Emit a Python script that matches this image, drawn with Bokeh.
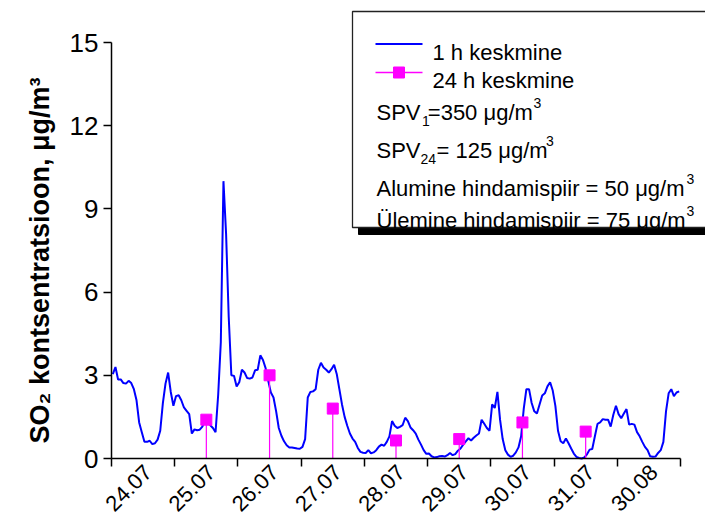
import math

from bokeh.core.properties import value
from bokeh.embed import file_html
from bokeh.models import ColumnDataSource, FixedTicker, Range1d, Title
from bokeh.plotting import figure
from bokeh.resources import INLINE

# ---- data -------------------------------------------------------------
day_labels = ["24.07", "25.07", "26.07", "27.07", "28.07",
              "29.07", "30.07", "31.07", "30.08"]

# hourly SO2 concentration, µg/m3 (24 values per day)
hourly_d1 = [3.04, 3.30, 2.85, 2.85, 2.72, 2.70, 2.80, 2.72, 2.50, 2.10, 1.30, 0.95,
             0.60, 0.60, 0.64, 0.52, 0.55, 0.68, 1.00, 2.00, 2.70, 3.10, 2.40, 1.90]
hourly_d2 = [2.25, 2.28, 2.10, 1.84, 1.72, 1.60, 0.90, 1.05, 1.02, 1.04, 1.15, 1.35,
             1.40, 1.20, 1.10, 0.95, 2.30, 4.20, 10.0, 8.10, 5.10, 3.00, 2.98, 2.60]
hourly_d3 = [2.75, 3.20, 3.10, 2.90, 2.88, 2.92, 3.18, 3.20, 3.72, 3.55, 3.26, 2.80,
             2.38, 2.20, 1.70, 1.10, 0.82, 0.62, 0.48, 0.40, 0.40, 0.38, 0.36, 0.35]
hourly_d4 = [0.42, 0.70, 2.20, 2.40, 2.42, 2.50, 3.20, 3.45, 3.28, 3.20, 3.10, 3.22,
             3.38, 3.05, 2.50, 1.95, 1.50, 1.18, 0.90, 0.72, 0.60, 0.38, 0.24, 0.21]
hourly_d5 = [0.20, 0.30, 0.19, 0.22, 0.30, 0.43, 0.50, 0.46, 0.60, 0.80, 1.35, 1.18,
             1.10, 1.14, 1.20, 1.47, 1.35, 1.12, 1.02, 0.90, 0.68, 0.50, 0.30, 0.17]
hourly_d6 = [0.18, 0.08, 0.04, 0.05, 0.08, 0.09, 0.07, 0.12, 0.20, 0.12, 0.16, 0.28,
             0.36, 0.50, 0.62, 0.73, 0.65, 0.75, 0.83, 0.90, 1.40, 1.25, 1.10, 1.00]
hourly_d7 = [1.95, 1.82, 2.40, 1.40, 0.70, 0.30, 0.14, 0.06, 0.10, 0.22, 0.40, 0.80,
             1.80, 2.50, 2.50, 2.00, 1.70, 1.62, 1.95, 2.27, 2.35, 2.60, 2.75, 2.45]
hourly_d8 = [1.90, 1.00, 0.62, 0.55, 0.72, 0.55, 0.36, 0.18, 0.06, 0.02, 0.00, 0.04,
             0.15, 0.32, 0.34, 0.80, 1.25, 1.30, 1.42, 1.40, 1.40, 1.15, 1.58, 1.90]
hourly_d9 = [1.60, 1.45, 1.62, 1.78, 1.22, 1.25, 1.22, 0.95, 0.80, 0.60, 0.42, 0.30,
             0.08, 0.06, 0.07, 0.20, 0.30, 0.60, 1.70, 2.35, 2.50, 2.25, 2.38, 2.42]

# 24 h means (no value for the first and last day)
daily_mean = [float("nan"), 1.40, 3.00, 1.80, 0.65, 0.70, 1.30, 0.97, float("nan")]

y_ticks = [0, 3, 6, 9, 12, 15]

# ---- layout -----------------------------------------------------------
W, H = 705, 516
FRAME_L, FRAME_R, FRAME_T, FRAME_B = 56, 705, 8, 516
Y_AXIS_X_PX = 111            # pixel column of the y axis (x = 0)
X_AXIS_END_PX = 680          # pixel where the last day ends
X_AXIS_Y_PX = 458            # pixel row of the x axis (y = 0)
Y_TOP_TICK_PX = 42           # pixel of the top y tick (15)
n_days = len(day_labels)
n_hours = 24 * n_days

px_per_h = (X_AXIS_END_PX - Y_AXIS_X_PX) / n_hours
px_per_unit = (X_AXIS_Y_PX - Y_TOP_TICK_PX) / y_ticks[-1]


def dx(px):
    return (px - Y_AXIS_X_PX) / px_per_h


def dy(py):
    return (X_AXIS_Y_PX - py) / px_per_unit


hourly = (hourly_d1 + hourly_d2 + hourly_d3 + hourly_d4 + hourly_d5 +
          hourly_d6 + hourly_d7 + hourly_d8 + hourly_d9)
hour_x = [i + 0.5 for i in range(len(hourly))]
day_centers = [24 * k + 12 for k in range(n_days)]
day_edges = [24 * k for k in range(n_days + 1)]

FONT = "Liberation Sans"

p = figure(width=W, height=H,
           x_range=Range1d(dx(FRAME_L), dx(FRAME_R)),
           y_range=Range1d(dy(FRAME_B), dy(FRAME_T)),
           output_backend="svg", toolbar_location=None,
           min_border_left=FRAME_L, min_border_right=0,
           min_border_top=FRAME_T, min_border_bottom=0)
p.outline_line_color = None
p.xgrid.visible = False
p.ygrid.visible = False
p.background_fill_color = "white"
p.border_fill_color = "white"

# ---- axes -------------------------------------------------------------
# x axis sits at y = 0; day boundaries are ticked, day names are set below
xa = p.xaxis[0]
xa.fixed_location = 0
xa.ticker = FixedTicker(ticks=[], minor_ticks=day_edges)
xa.bounds = (0, n_hours)
xa.axis_line_width = 1.5
xa.major_tick_line_color = None
xa.major_tick_in = 0
xa.major_tick_out = 0
xa.major_label_standoff = 0
xa.minor_tick_line_color = "black"
xa.minor_tick_line_width = 1.5
xa.minor_tick_in = 0
xa.minor_tick_out = 8

# y axis sits at x = 0; its numbers are set beside it
ya = p.yaxis[0]
ya.fixed_location = 0
ya.ticker = FixedTicker(ticks=[], minor_ticks=y_ticks)
ya.bounds = (0, y_ticks[-1])
ya.axis_line_width = 1.5
ya.major_tick_line_color = None
ya.major_tick_in = 0
ya.major_tick_out = 0
ya.major_label_standoff = 0
ya.minor_tick_line_color = "black"
ya.minor_tick_line_width = 1.5
ya.minor_tick_in = 0
ya.minor_tick_out = 8

p.text(x=[dx(Y_AXIS_X_PX - 13)] * len(y_ticks), y=y_ticks,
       text=[str(t) for t in y_ticks],
       text_font=value(FONT), text_font_size="26px", text_color="black",
       text_align="right", text_baseline="middle")

# y axis title
p.add_layout(Title(text="SO\u2082 kontsentratsioon, \u03bcg/m\u00b3",
                   align="left", offset=73, standoff=4,
                   text_font=FONT, text_font_style="bold",
                   text_font_size="27px", text_color="black"), "left")

# day names under the x axis, slanted at 45 degrees
p.text(x=[c + 5 / px_per_h for c in day_centers], y=[dy(468)] * n_days,
       text=day_labels, angle=math.pi / 4,
       text_font=value(FONT), text_font_size="22px", text_color="black",
       text_align="right", text_baseline="middle")

# ---- series -----------------------------------------------------------
BLUE = "#0000ff"
MAGENTA = "#ff00ff"

p.line(hour_x, hourly, line_color=BLUE, line_width=2)

mean_src = ColumnDataSource(dict(
    x=[c for c, m in zip(day_centers, daily_mean) if not math.isnan(m)],
    y=[m for m in daily_mean if not math.isnan(m)],
))
mean_src.data["y0"] = [0] * len(mean_src.data["x"])
p.segment(x0="x", y0="y0", x1="x", y1="y", source=mean_src,
          line_color=MAGENTA, line_width=1.2)
p.scatter(x="x", y="y", source=mean_src, marker="square", size=11,
          fill_color=MAGENTA, line_color=MAGENTA)

# ---- legend box -------------------------------------------------------
BOX_L, BOX_T, BOX_B = 352, 11, 227
p.quad(left=[dx(BOX_L + 6)], right=[dx(FRAME_R + 20)],
       top=[dy(BOX_T + 20)], bottom=[dy(BOX_B + 7)],
       fill_color="black", line_color="black")
p.quad(left=[dx(BOX_L)], right=[dx(FRAME_R + 20)],
       top=[dy(BOX_T)], bottom=[dy(BOX_B)],
       fill_color="white", line_color="#222222", line_width=1.3)

p.segment(x0=[dx(375)], y0=[dy(43.5)], x1=[dx(422)], y1=[dy(43.5)],
          line_color=BLUE, line_width=2)
p.segment(x0=[dx(375)], y0=[dy(72)], x1=[dx(422)], y1=[dy(72)],
          line_color=MAGENTA, line_width=1.5)
p.scatter(x=[dx(398.5)], y=[dy(72)], marker="square", size=11,
          fill_color=MAGENTA, line_color=MAGENTA)

legend_main = ColumnDataSource(dict(
    x=[dx(432), dx(432), dx(376), dx(427.3), dx(376), dx(436), dx(376), dx(376)],
    y=[dy(51.5), dy(80), dy(111.7), dy(111.7), dy(150), dy(150), dy(188.3), dy(220)],
    text=["1 h keskmine", "24 h keskmine", "SPV", "=350 \u03bcg/m", "SPV",
          "= 125 \u03bcg/m", "Alumine hindamispiir = 50 \u03bcg/m",
          "\u00dclemine hindamispiir = 75 \u03bcg/m"],
))
p.text(x="x", y="y", text="text", source=legend_main,
       text_font=value(FONT), text_font_size="22px", text_color="black",
       text_align="left", text_baseline="alphabetic")

legend_small = ColumnDataSource(dict(
    x=[dx(421.5), dx(533), dx(420), dx(545.5), dx(686), dx(686)],
    y=[dy(120), dy(102), dy(158.5), dy(140), dy(178), dy(210)],
    text=["1", "3", "24", "3", "3", "3"],
))
p.text(x="x", y="y", text="text", source=legend_small,
       text_font=value(FONT), text_font_size="14px", text_color="black",
       text_align="left", text_baseline="alphabetic")

open("out.html", "w").write(file_html(p, INLINE))
